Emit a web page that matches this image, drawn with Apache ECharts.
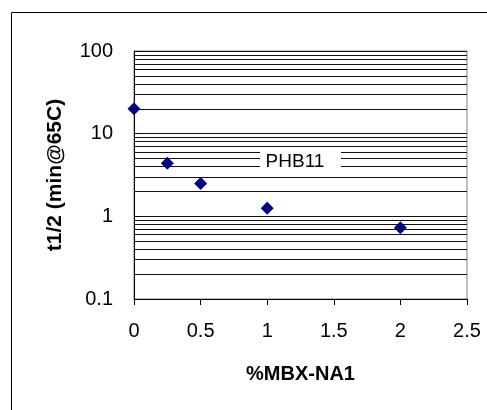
<!DOCTYPE html>
<html><head><meta charset="utf-8">
<script src="https://cdn.jsdelivr.net/npm/echarts@6/dist/echarts.min.js"></script>
<style>html,body{margin:0;padding:0;background:#fff}#c{width:487px;height:410px}</style>
</head><body><div id="c"></div>
<script>
var xValues = [0, 0.25, 0.5, 1, 2];
var yValues = [20, 4.4, 2.5, 1.25, 0.73];
var minorGridValues = [0.2,0.3,0.4,0.5,0.6,0.7,0.8,0.9,2,3,4,5,6,7,8,9,20,30,40,50,60,70,80,90];
var seriesLabel = 'PHB11';
var xTitle = '%MBX-NA1';
var yTitle = 't1/2 (min@65C)';
var FONT = '"Liberation Sans", Arial, sans-serif';

var chart = echarts.init(document.getElementById('c'), null, {renderer: 'canvas'});
chart.setOption({
  animation: false,
  backgroundColor: '#fff',
  grid: {left: 134, top: 51, width: 333, height: 248, show: true, borderColor: '#808080', borderWidth: 1, backgroundColor: 'transparent'},
  xAxis: {
    type: 'value', min: 0, max: 2.5, interval: 0.5,
    axisLine: {show: true, lineStyle: {color: '#000', width: 1}},
    axisTick: {show: true, inside: false, length: 6, lineStyle: {color: '#000'}},
    splitLine: {show: false},
    axisLabel: {color: '#000', fontFamily: FONT, fontSize: 20, margin: 22},
    name: xTitle, nameLocation: 'middle', nameGap: 65,
    nameTextStyle: {color: '#000', fontFamily: FONT, fontSize: 20, fontWeight: 'bold'}
  },
  yAxis: {
    type: 'log', logBase: 10, min: 0.1, max: 100,
    axisLine: {show: true, lineStyle: {color: '#000', width: 1}},
    axisTick: {show: true, inside: true, length: 6, lineStyle: {color: '#000'}},
    splitLine: {show: true, lineStyle: {color: '#111', width: 1}},
    axisLabel: {color: '#000', fontFamily: FONT, fontSize: 20, margin: 21,
      formatter: function (v) { return String(+v.toPrecision(3)); }},
    name: yTitle, nameLocation: 'middle', nameGap: 68, nameRotate: 90,
    nameTextStyle: {color: '#000', fontFamily: FONT, fontSize: 21, fontWeight: 'bold'}
  },
  series: [
    {
      type: 'line', data: [], silent: true,
      markLine: {
        silent: true, symbol: ['none', 'none'], animation: false,
        label: {show: false},
        lineStyle: {color: '#111', width: 1, type: 'solid', opacity: 1},
        emphasis: {disabled: true},
        data: minorGridValues.map(function (v) { return {yAxis: v}; })
      }
    },
    {
      name: seriesLabel, type: 'scatter', symbol: 'diamond', symbolSize: 13,
      itemStyle: {color: '#000080', opacity: 1},
      data: xValues.map(function (x, i) { return [x, yValues[i]]; }),
      z: 5
    }
  ],
  graphic: [
    {type: 'rect', shape: {x: 11.5, y: 12.5, width: 490, height: 410}, style: {fill: 'none', stroke: '#000', lineWidth: 1}, silent: true, z: 10},
    {type: 'rect', shape: {x: 260, y: 149, width: 81, height: 26}, style: {fill: '#fff'}, z: 20},
    {type: 'text', x: 295, y: 162, style: {text: seriesLabel, fill: '#000', font: '19px "Liberation Sans", Arial, sans-serif', textAlign: 'center', textVerticalAlign: 'middle'}, z: 21}
  ]
});
</script></body></html>
